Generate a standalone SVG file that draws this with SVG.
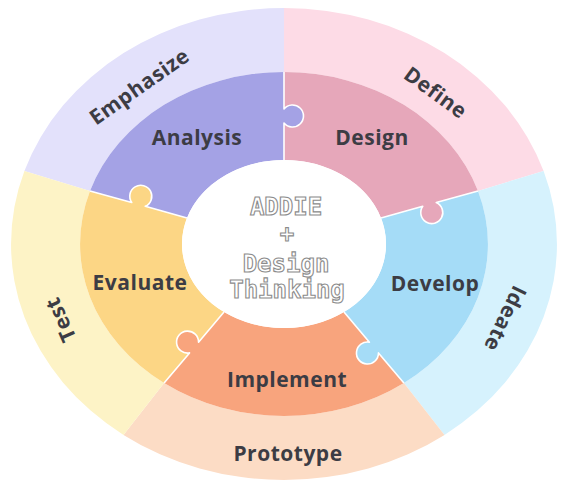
<svg xmlns="http://www.w3.org/2000/svg" width="562" height="488" viewBox="0 0 562 488">
  <style>
    .lbl { font-family: "Open Sans", "Noto Sans", "Liberation Sans", sans-serif; font-weight: 700; font-size: 21px; letter-spacing: 0.5px; fill: #3c3c44; text-anchor: middle; dominant-baseline: central; }
    .hub { font-family: "DejaVu Sans Mono", "Liberation Mono", monospace; font-weight: 700; font-size: 24px; fill: #ffffff; stroke: #8c8c8c; stroke-width: 1.1; text-anchor: middle; }
    .seam { fill: none; stroke: #ffffff; stroke-width: 1.6; stroke-linejoin: round; }
  </style>
  <rect width="562" height="488" fill="#ffffff"/>

  <!-- outer ring: design-thinking stages -->
  <g id="emphasize">
    <path d="M24.4,171.1 A273,236 0 0 1 284,8 L284,72 A204,172 0 0 0 90,190.9 Z" fill="#e3e1fb"/>
    <text class="lbl" transform="translate(139,86) rotate(-35)">Emphasize</text>
  </g>
  <g id="define">
    <path d="M284,8 A273,236 0 0 1 543.6,171.1 L478,190.9 A204,172 0 0 0 284,72 Z" fill="#fddbe6"/>
    <text class="lbl" transform="translate(436,92) rotate(36)">Define</text>
  </g>
  <g id="ideate">
    <path d="M543.6,171.1 A273,236 0 0 1 444.5,434.9 L403.9,383.1 A204,172 0 0 0 478,190.9 Z" fill="#d6f2fd"/>
    <text class="lbl" transform="translate(506,319) rotate(116)">Ideate</text>
  </g>
  <g id="prototype">
    <path d="M444.5,434.9 A273,236 0 0 1 123.5,434.9 L164.1,383.1 A204,172 0 0 0 403.9,383.1 Z" fill="#fcdcc5"/>
    <text class="lbl" x="288" y="453">Prototype</text>
  </g>
  <g id="test">
    <path d="M123.5,434.9 A273,236 0 0 1 24.4,171.1 L90,190.9 A204,172 0 0 0 164.1,383.1 Z" fill="#fdf3c6"/>
    <text class="lbl" transform="translate(60,320) rotate(-114)">Test</text>
  </g>

  <!-- inner ring: ADDIE puzzle pieces -->
  <g id="analysis">
    <path d="M187,218 L145.24,206.33 A11,11 0 1 0 131.76,202.57 L90,190.9 A204,172 0 0 1 284,72 L284,109 A11,11 0 1 1 284,123 L284,160 A102,84 0 0 0 187,218 Z" fill="#a4a2e5"/>
    <text class="lbl" x="197" y="137">Analysis</text>
  </g>
  <g id="design">
    <path d="M284,160 L284,123 A11,11 0 1 0 284,109 L284,72 A204,172 0 0 1 478,190.9 L436.24,202.57 A11,11 0 1 1 422.76,206.33 L381,218 A102,84 0 0 0 284,160 Z" fill="#e6a7ba"/>
    <text class="lbl" x="372" y="137">Design</text>
  </g>
  <g id="develop">
    <path d="M381,218 L422.76,206.33 A11,11 0 1 0 436.24,202.57 L478,190.9 A204,172 0 0 1 403.9,383.1 L378.46,352.9 A11,11 0 1 1 369.44,342.2 L344,312 A102,84 0 0 0 381,218 Z" fill="#a5dcf7"/>
    <text class="lbl" x="435" y="283">Develop</text>
  </g>
  <g id="implement">
    <path d="M344,312 L369.44,342.2 A11,11 0 1 0 378.46,352.9 L403.9,383.1 A204,172 0 0 1 164.1,383.1 L189.54,352.9 A11,11 0 1 1 198.56,342.2 L224,312 A102,84 0 0 0 344,312 Z" fill="#f8a47d"/>
    <text class="lbl" x="287" y="379">Implement</text>
  </g>
  <g id="evaluate">
    <path d="M224,312 L198.56,342.2 A11,11 0 1 0 189.54,352.9 L164.1,383.1 A204,172 0 0 1 90,190.9 L131.76,202.57 A11,11 0 1 1 145.24,206.33 L187,218 A102,84 0 0 0 224,312 Z" fill="#fcd685"/>
    <text class="lbl" x="140" y="282">Evaluate</text>
  </g>

  <!-- white seams between puzzle pieces -->
  <g id="seams">
    <path class="seam" d="M284,160 L284,123 A11,11 0 1 0 284,109 L284,72"/>
    <path class="seam" d="M381,218 L422.76,206.33 A11,11 0 1 0 436.24,202.57 L478,190.9"/>
    <path class="seam" d="M344,312 L369.44,342.2 A11,11 0 1 0 378.46,352.9 L403.9,383.1"/>
    <path class="seam" d="M224,312 L198.56,342.2 A11,11 0 1 0 189.54,352.9 L164.1,383.1"/>
    <path class="seam" d="M187,218 L145.24,206.33 A11,11 0 1 0 131.76,202.57 L90,190.9"/>
  </g>

  <!-- hub -->
  <g id="hub">
    <ellipse cx="284" cy="244" rx="102" ry="84" fill="#ffffff"/>
    <text class="hub" x="286" y="215" font-size="26">ADDIE</text>
    <text class="hub" x="287" y="242">+</text>
    <text class="hub" x="286" y="272">Design</text>
    <text class="hub" x="287" y="298">Thinking</text>
  </g>
</svg>
